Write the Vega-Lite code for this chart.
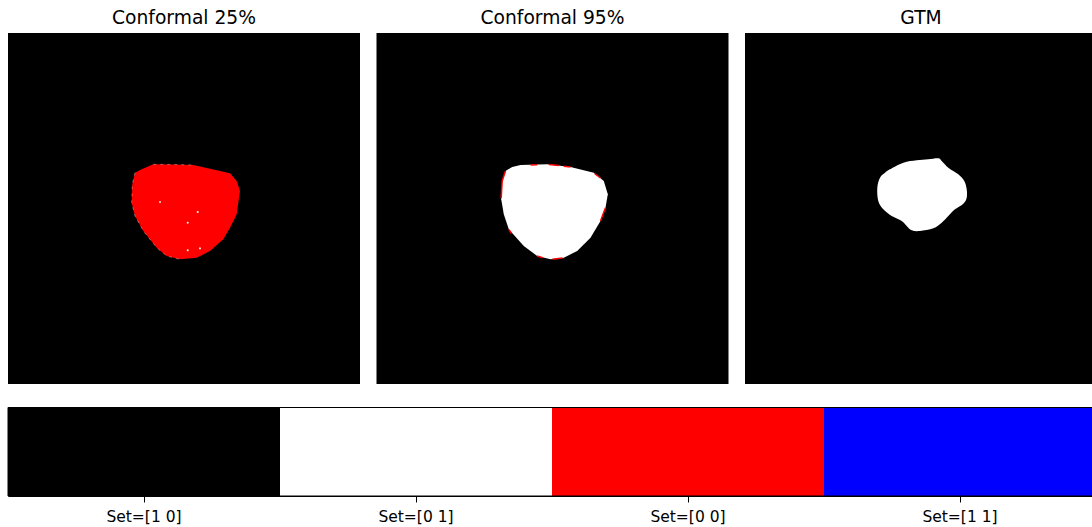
{
  "$schema": "https://vega.github.io/schema/vega-lite/v6.json",
  "padding": {"left": 7, "top": 9, "right": 0, "bottom": 0},
  "background": "white",
  "config": {
    "font": "DejaVu Sans",
    "title": {"fontSize": 18.7, "fontWeight": "normal", "color": "black", "offset": 5, "font": "DejaVu Sans"},
    "view": {"stroke": null},
    "axis": {"labelFont": "DejaVu Sans"}
  },
  "datasets": {
    "blobs": [
      {"panel": "p1", "i": 0, "x": 145.3, "y": 131.3},
      {"panel": "p1", "i": 1, "x": 165, "y": 131.5},
      {"panel": "p1", "i": 2, "x": 185.3, "y": 132},
      {"panel": "p1", "i": 3, "x": 208.7, "y": 137.3},
      {"panel": "p1", "i": 4, "x": 222, "y": 140.3},
      {"panel": "p1", "i": 5, "x": 228.7, "y": 148},
      {"panel": "p1", "i": 6, "x": 232, "y": 158},
      {"panel": "p1", "i": 7, "x": 230.3, "y": 169.7},
      {"panel": "p1", "i": 8, "x": 228.7, "y": 181.3},
      {"panel": "p1", "i": 9, "x": 222, "y": 194.7},
      {"panel": "p1", "i": 10, "x": 215.3, "y": 206.3},
      {"panel": "p1", "i": 11, "x": 202, "y": 218},
      {"panel": "p1", "i": 12, "x": 188.7, "y": 224.7},
      {"panel": "p1", "i": 13, "x": 172, "y": 226.3},
      {"panel": "p1", "i": 14, "x": 158.7, "y": 223},
      {"panel": "p1", "i": 15, "x": 148.7, "y": 214.7},
      {"panel": "p1", "i": 16, "x": 135.3, "y": 198},
      {"panel": "p1", "i": 17, "x": 127, "y": 183},
      {"panel": "p1", "i": 18, "x": 123.7, "y": 169.7},
      {"panel": "p1", "i": 19, "x": 124.3, "y": 151.3},
      {"panel": "p1", "i": 20, "x": 127, "y": 139.7},
      {"panel": "p1", "i": 21, "x": 133.7, "y": 136.3},

      {"panel": "p2", "i": 0, "x": 144, "y": 132},
      {"panel": "p2", "i": 1, "x": 170.7, "y": 131.3},
      {"panel": "p2", "i": 2, "x": 194, "y": 134},
      {"panel": "p2", "i": 3, "x": 217.3, "y": 139.7},
      {"panel": "p2", "i": 4, "x": 227.3, "y": 148},
      {"panel": "p2", "i": 5, "x": 231.3, "y": 161.3},
      {"panel": "p2", "i": 6, "x": 229, "y": 174.7},
      {"panel": "p2", "i": 7, "x": 224, "y": 188},
      {"panel": "p2", "i": 8, "x": 214, "y": 204.7},
      {"panel": "p2", "i": 9, "x": 200.7, "y": 218},
      {"panel": "p2", "i": 10, "x": 187.3, "y": 224.7},
      {"panel": "p2", "i": 11, "x": 174, "y": 226.3},
      {"panel": "p2", "i": 12, "x": 160.7, "y": 223},
      {"panel": "p2", "i": 13, "x": 147.3, "y": 213},
      {"panel": "p2", "i": 14, "x": 132.3, "y": 196.3},
      {"panel": "p2", "i": 15, "x": 127.3, "y": 181.3},
      {"panel": "p2", "i": 16, "x": 124.7, "y": 166.3},
      {"panel": "p2", "i": 17, "x": 125.7, "y": 148},
      {"panel": "p2", "i": 18, "x": 129, "y": 138},
      {"panel": "p2", "i": 19, "x": 135.7, "y": 134},

      {"panel": "p3", "i": 0, "x": 145, "y": 136.3},
      {"panel": "p3", "i": 1, "x": 158.3, "y": 129.7},
      {"panel": "p3", "i": 2, "x": 171.7, "y": 127.3},
      {"panel": "p3", "i": 3, "x": 183.3, "y": 126.3},
      {"panel": "p3", "i": 4, "x": 193.3, "y": 125.3},
      {"panel": "p3", "i": 5, "x": 196.7, "y": 128},
      {"panel": "p3", "i": 6, "x": 203.3, "y": 134.7},
      {"panel": "p3", "i": 7, "x": 213.3, "y": 141.3},
      {"panel": "p3", "i": 8, "x": 219.3, "y": 148},
      {"panel": "p3", "i": 9, "x": 221.7, "y": 156.3},
      {"panel": "p3", "i": 10, "x": 221.7, "y": 164.7},
      {"panel": "p3", "i": 11, "x": 218.3, "y": 170.7},
      {"panel": "p3", "i": 12, "x": 210, "y": 176.3},
      {"panel": "p3", "i": 13, "x": 203.3, "y": 183},
      {"panel": "p3", "i": 14, "x": 196.7, "y": 189.7},
      {"panel": "p3", "i": 15, "x": 188.3, "y": 195.3},
      {"panel": "p3", "i": 16, "x": 175, "y": 198},
      {"panel": "p3", "i": 17, "x": 166.7, "y": 197.3},
      {"panel": "p3", "i": 18, "x": 161.7, "y": 193},
      {"panel": "p3", "i": 19, "x": 156.7, "y": 188},
      {"panel": "p3", "i": 20, "x": 146.7, "y": 183},
      {"panel": "p3", "i": 21, "x": 138.3, "y": 176.3},
      {"panel": "p3", "i": 22, "x": 133.3, "y": 168},
      {"panel": "p3", "i": 23, "x": 132.3, "y": 154.7},
      {"panel": "p3", "i": 24, "x": 135, "y": 144.7},
      {"panel": "p3", "i": 25, "x": 140, "y": 139.7}
    ],
    "edges": [
      {"panel": "p1", "seg": "w1", "i": 0, "x": 127, "y": 139.7},
      {"panel": "p1", "seg": "w1", "i": 1, "x": 124.3, "y": 151.3},
      {"panel": "p1", "seg": "w1", "i": 2, "x": 123.7, "y": 169.7},
      {"panel": "p1", "seg": "w1", "i": 3, "x": 127, "y": 183},
      {"panel": "p1", "seg": "w1", "i": 4, "x": 135.3, "y": 198},
      {"panel": "p1", "seg": "w1", "i": 5, "x": 148.7, "y": 214.7},
      {"panel": "p1", "seg": "w1", "i": 6, "x": 158.7, "y": 223},
      {"panel": "p1", "seg": "w1", "i": 7, "x": 172, "y": 226.3},
      {"panel": "p1", "seg": "w2", "i": 0, "x": 145.3, "y": 131.3},
      {"panel": "p1", "seg": "w2", "i": 1, "x": 165, "y": 131.5},
      {"panel": "p1", "seg": "w2", "i": 2, "x": 185.3, "y": 132},

      {"panel": "p2", "seg": "a", "i": 0, "x": 129, "y": 138},
      {"panel": "p2", "seg": "a", "i": 1, "x": 125.7, "y": 148},
      {"panel": "p2", "seg": "a", "i": 2, "x": 124.7, "y": 165},
      {"panel": "p2", "seg": "b", "i": 0, "x": 154, "y": 132},
      {"panel": "p2", "seg": "b", "i": 1, "x": 160.7, "y": 131.8},
      {"panel": "p2", "seg": "c", "i": 0, "x": 172.3, "y": 131.4},
      {"panel": "p2", "seg": "c", "i": 1, "x": 182.3, "y": 132.5},
      {"panel": "p2", "seg": "d", "i": 0, "x": 187.3, "y": 133.3},
      {"panel": "p2", "seg": "d", "i": 1, "x": 194, "y": 134},
      {"panel": "p2", "seg": "e", "i": 0, "x": 229, "y": 174.7},
      {"panel": "p2", "seg": "e", "i": 1, "x": 226.5, "y": 181.3},
      {"panel": "p2", "seg": "e", "i": 2, "x": 224, "y": 188},
      {"panel": "p2", "seg": "f", "i": 0, "x": 160.7, "y": 223},
      {"panel": "p2", "seg": "f", "i": 1, "x": 166, "y": 224.8},
      {"panel": "p2", "seg": "g", "i": 0, "x": 176, "y": 226.2},
      {"panel": "p2", "seg": "g", "i": 1, "x": 186, "y": 224.9},
      {"panel": "p2", "seg": "h", "i": 0, "x": 132.3, "y": 196.3},
      {"panel": "p2", "seg": "h", "i": 1, "x": 135, "y": 200.5},
      {"panel": "p2", "seg": "k", "i": 0, "x": 218, "y": 140.5},
      {"panel": "p2", "seg": "k", "i": 1, "x": 224, "y": 145}
    ],
    "dots": [
      {"x": 152, "y": 169},
      {"x": 189.7, "y": 179},
      {"x": 179.7, "y": 189.7},
      {"x": 179.7, "y": 217.3},
      {"x": 192, "y": 215.3}
    ],
    "strip": [
      {"set": "Set=[1 0]"},
      {"set": "Set=[0 1]"},
      {"set": "Set=[0 0]"},
      {"set": "Set=[1 1]"}
    ]
  },
  "spacing": 22.5,
  "vconcat": [
    {
      "spacing": 16.5,
      "hconcat": [
        {
          "title": "Conformal 25%",
          "width": 352,
          "height": 351,
          "view": {"fill": "black", "stroke": null},
          "layer": [
            {
              "data": {"name": "blobs"},
              "transform": [{"filter": "datum.panel === 'p1'"}],
              "mark": {"type": "line", "interpolate": "linear-closed", "filled": true, "color": "#ff0000"},
              "encoding": {
                "x": {"field": "x", "type": "quantitative", "scale": {"domain": [0, 352], "nice": false, "zero": false}, "axis": null},
                "y": {"field": "y", "type": "quantitative", "scale": {"domain": [0, 351], "nice": false, "zero": false, "reverse": true}, "axis": null},
                "order": {"field": "i", "type": "quantitative"}
              }
            },
            {
              "data": {"name": "edges"},
              "transform": [{"filter": "datum.panel === 'p1'"}],
              "mark": {"type": "line", "color": "white", "strokeWidth": 0.8, "opacity": 0.45, "strokeDash": [3, 4]},
              "encoding": {
                "x": {"field": "x", "type": "quantitative"},
                "y": {"field": "y", "type": "quantitative"},
                "detail": {"field": "seg"},
                "order": {"field": "i", "type": "quantitative"}
              }
            },
            {
              "data": {"name": "dots"},
              "mark": {"type": "square", "color": "white", "size": 3, "opacity": 1, "filled": true},
              "encoding": {
                "x": {"field": "x", "type": "quantitative"},
                "y": {"field": "y", "type": "quantitative"}
              }
            }
          ]
        },
        {
          "title": "Conformal 95%",
          "width": 352,
          "height": 351,
          "view": {"fill": "black", "stroke": null},
          "layer": [
            {
              "data": {"name": "blobs"},
              "transform": [{"filter": "datum.panel === 'p2'"}],
              "mark": {"type": "line", "interpolate": "linear-closed", "filled": true, "color": "#ffffff"},
              "encoding": {
                "x": {"field": "x", "type": "quantitative", "scale": {"domain": [0, 352], "nice": false, "zero": false}, "axis": null},
                "y": {"field": "y", "type": "quantitative", "scale": {"domain": [0, 351], "nice": false, "zero": false, "reverse": true}, "axis": null},
                "order": {"field": "i", "type": "quantitative"}
              }
            },
            {
              "data": {"name": "edges"},
              "transform": [{"filter": "datum.panel === 'p2'"}],
              "mark": {"type": "line", "color": "#ff0000", "strokeWidth": 1.5},
              "encoding": {
                "x": {"field": "x", "type": "quantitative"},
                "y": {"field": "y", "type": "quantitative"},
                "detail": {"field": "seg"},
                "order": {"field": "i", "type": "quantitative"}
              }
            }
          ]
        },
        {
          "title": "GTM",
          "width": 352,
          "height": 351,
          "view": {"fill": "black", "stroke": null},
          "layer": [
            {
              "data": {"name": "blobs"},
              "transform": [{"filter": "datum.panel === 'p3'"}],
              "mark": {"type": "line", "interpolate": "cardinal-closed", "filled": true, "color": "#ffffff"},
              "encoding": {
                "x": {"field": "x", "type": "quantitative", "scale": {"domain": [0, 352], "nice": false, "zero": false}, "axis": null},
                "y": {"field": "y", "type": "quantitative", "scale": {"domain": [0, 351], "nice": false, "zero": false, "reverse": true}, "axis": null},
                "order": {"field": "i", "type": "quantitative"}
              }
            }
          ]
        }
      ]
    },
    {
      "width": 1088,
      "height": 88.5,
      "data": {"name": "strip"},
      "layer": [
        {
          "mark": {"type": "bar"},
          "encoding": {
            "x": {
              "field": "set",
              "type": "nominal",
              "sort": null,
              "scale": {"paddingInner": 0, "paddingOuter": 0},
              "axis": {"title": null, "labelAngle": 0, "tickSize": 6, "tickWidth": 1, "labelPadding": 7, "labelFontSize": 15.5, "labelColor": "black", "tickColor": "black", "domainColor": "black", "labelFont": "DejaVu Sans"}
            },
            "color": {
              "field": "set",
              "type": "nominal",
              "scale": {"domain": ["Set=[1 0]", "Set=[0 1]", "Set=[0 0]", "Set=[1 1]"], "range": ["#000000", "#ffffff", "#ff0000", "#0000ff"]},
              "legend": null
            }
          }
        },
        {
          "data": {"values": [{"frame": "outline"}]},
          "mark": {"type": "rect", "fill": null, "fillOpacity": 0, "stroke": "black", "strokeWidth": 1},
          "encoding": {
            "x": {"value": 0},
            "x2": {"value": "width"},
            "y": {"value": 0},
            "y2": {"value": "height"}
          }
        }
      ]
    }
  ]
}
